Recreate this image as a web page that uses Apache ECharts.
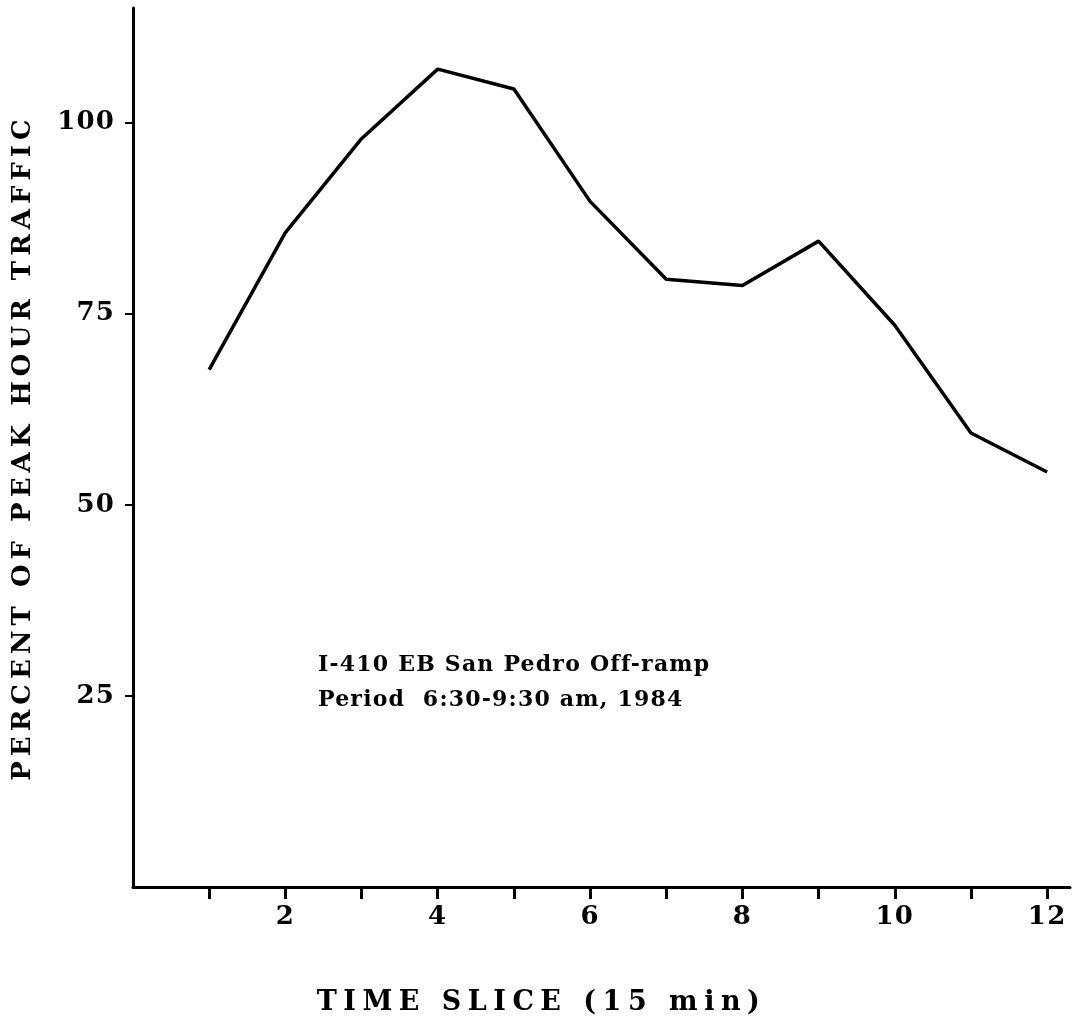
<!DOCTYPE html>
<html>
<head>
<meta charset="utf-8">
<script src="https://cdn.jsdelivr.net/npm/echarts@6/dist/echarts.min.js"></script>
<style>
html,body{margin:0;padding:0;background:#fff;}
#chart{width:1072px;height:1021px;}
</style>
</head>
<body>
<div id="chart"></div>
<script>
// Data
const timeSlices = [1, 2, 3, 4, 5, 6, 7, 8, 9, 10, 11, 12];
const percentPeak = [67.7, 85.6, 97.9, 107.0, 104.4, 89.7, 79.5, 78.7, 84.5, 73.5, 59.4, 54.3];
const xTickValues = [1, 2, 3, 4, 5, 6, 7, 8, 9, 10, 11, 12];
const xLabelValues = [2, 4, 6, 8, 10, 12];
const yTickValues = [25, 50, 75, 100];
const annotationLines = ['I-410 EB San Pedro Off-ramp', 'Period  6:30-9:30 am, 1984'];
const xTitle = 'TIME SLICE (15 min)';
const yTitle = 'PERCENT OF PEAK HOUR TRAFFIC';

// wide, letter-spaced lettering of the original
const letterSpacingByText = {};
letterSpacingByText[xTitle] = 6.5;
letterSpacingByText[yTitle] = 5;
annotationLines.forEach(t => { letterSpacingByText[t] = 1.2; });
(function () {
  const proto = CanvasRenderingContext2D.prototype;
  const orig = proto.fillText;
  proto.fillText = function (t, x, y, w) {
    const s = letterSpacingByText[t];
    if (s != null && 'letterSpacing' in this) {
      const prev = this.letterSpacing;
      this.letterSpacing = s + 'px';
      const r = w === undefined ? orig.call(this, t, x, y) : orig.call(this, t, x, y, w);
      this.letterSpacing = prev;
      return r;
    }
    return w === undefined ? orig.call(this, t, x, y) : orig.call(this, t, x, y, w);
  };
})();

const FONT = '"DejaVu Serif", "Liberation Serif", serif';
const chart = echarts.init(document.getElementById('chart'));
const seriesData = timeSlices.map((t, i) => [t, percentPeak[i]]);

chart.setOption({
  backgroundColor: '#fff',
  animation: false,
  grid: { left: 133, right: 2, top: 8, bottom: 129 },
  xAxis: {
    type: 'value', min: 0, max: 12.3, interval: 1,
    name: xTitle, nameLocation: 'middle', nameGap: 102,
    nameTextStyle: { fontFamily: FONT, fontWeight: 'bold', fontSize: 27, color: '#000', padding: [0, 120, 0, 0] },
    axisLine: { show: true, lineStyle: { color: '#000', width: 3 } },
    axisTick: { show: true, inside: false, length: 12, lineStyle: { color: '#000', width: 3 }, customValues: xTickValues },
    axisLabel: { show: true, margin: 17, fontFamily: FONT, fontWeight: 'bold', fontSize: 26, color: '#000', customValues: xLabelValues },
    splitLine: { show: false }
  },
  yAxis: {
    type: 'value', min: 0, max: 115, interval: 25,
    name: yTitle, nameLocation: 'middle', nameGap: 97, nameRotate: 90,
    nameTextStyle: { fontFamily: FONT, fontWeight: 'bold', fontSize: 26, color: '#000' },
    axisLine: { show: true, lineStyle: { color: '#000', width: 3 } },
    axisTick: { show: true, inside: false, length: 8, lineStyle: { color: '#000', width: 2 }, customValues: yTickValues },
    axisLabel: { show: true, margin: 18, fontFamily: FONT, fontWeight: 'bold', fontSize: 26, color: '#000', customValues: yTickValues },
    splitLine: { show: false }
  },
  graphic: [{
    type: 'text', left: 318, top: 648,
    style: { text: annotationLines.join('\n'), font: 'bold 22px ' + FONT, fill: '#000', lineHeight: 35 }
  }],
  series: [{
    type: 'line', data: seriesData, showSymbol: false, symbol: 'none',
    lineStyle: { color: '#000', width: 3.5 }
  }]
});
</script>
</body>
</html>
